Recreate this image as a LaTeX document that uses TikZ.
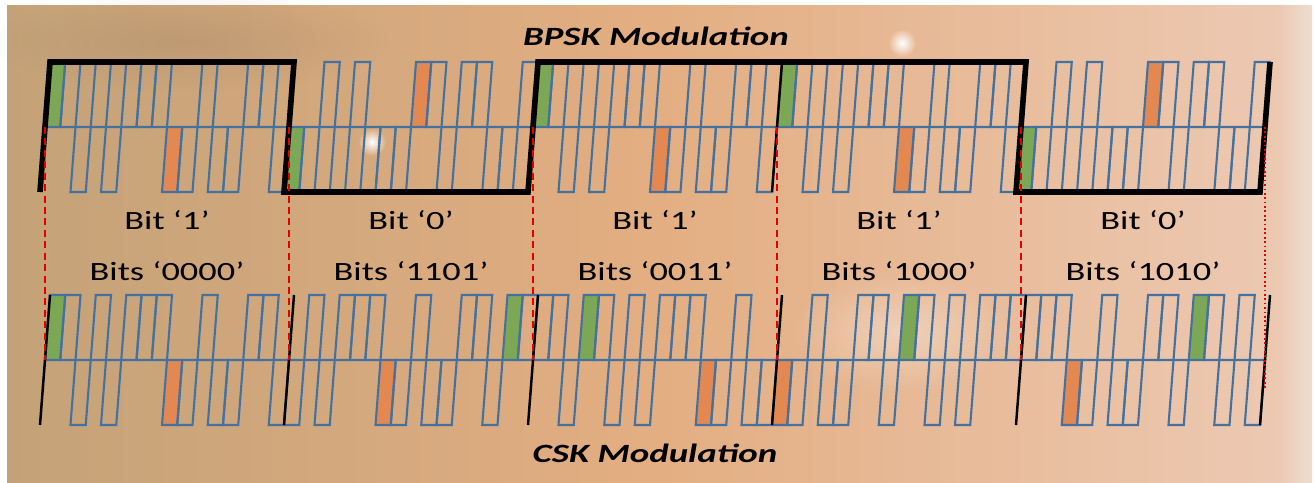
\documentclass[tikz,border=0pt]{standalone}
\usepackage{fontspec}
\setmainfont{Carlito}
\usepackage{tikz}
\usetikzlibrary{calc}
\usetikzlibrary{positioning}
\usetikzlibrary{fadings}

\definecolor{wavecol}{RGB}{68,114,160}
\definecolor{chipgreen}{RGB}{124,168,86}
\definecolor{chiporange}{RGB}{228,136,82}
\definecolor{bgleft}{RGB}{196,162,120}
\definecolor{bgmid}{RGB}{227,174,130}
\definecolor{bgright}{RGB}{237,202,180}
\definecolor{edgecol}{RGB}{236,222,208}

\tikzfading[name=softspot, inner color=transparent!0, outer color=transparent!100]

\begin{document}
\begin{tikzpicture}[x=0.2mm,y=0.2mm]

	\def\cw{15.25} % chip width
	\def\amp{65} % half height of a chip
	\def\pncode{{1,1,-1,1,-1,1,1,1,-1,-1,1,-1,-1,1,1,-1}}

	\tikzset{
		wave/.style={draw=wavecol, line width=1.2pt},
		databit/.style={black, line width=3.2pt},
		boundary/.style={black, line width=1.4pt},
		gap/.style={red!90!black, line width=1.1pt, dash pattern=on 4pt off 2.5pt},
		glow/.style={white, path fading=softspot},
		lbl/.style={font=\fontsize{15}{18}\selectfont, inner sep=0pt, anchor=base},
		title/.style={font=\fontsize{15}{18}\selectfont\bfseries\itshape, inner sep=0pt, anchor=base}
	}

	% background sheet
	\useasboundingbox (0,0) rectangle (1314,482);
	\fill[white] (0,0) rectangle (1314,482);
	\shade[left color=bgleft, right color=bgright, middle color=bgmid] (7,0) rectangle (1312,477);
	\shade[left color=bgright, right color=edgecol] (1280,0) rectangle (1312,477);
	\fill[bgleft!75!black, path fading=softspot, opacity=0.25] (190,440) ellipse (200 and 50);
	\fill[glow] (372,340) circle (14);
	\fill[glow] (902,439) circle (14);
	\fill[glow, opacity=0.35] (900,150) ellipse (110 and 60);

	% --- one code period: #1 start x, #2 midline y, #3 code shift, #4 sign
	\newcommand{\chips}[4]{
		\begin{scope}[shift={(#1,#2)}, xslant=0.077]
			\foreach \k in {0,...,15} {
				\pgfmathtruncatemacro{\j}{mod(\k-#3+16,16)}
				\pgfmathtruncatemacro{\v}{\pncode[\j]}
				\pgfmathtruncatemacro{\v}{#4*\v}
				\ifnum\j=0 \fill[chipgreen] (\k*\cw,0) rectangle ++(\cw,\v*\amp); \fi
				\ifnum\j=8 \fill[chiporange] (\k*\cw,0) rectangle ++(\cw,\v*\amp); \fi
				\draw[wave] (\k*\cw,0) rectangle ++(\cw,\v*\amp);
			}
		\end{scope}
	}

	% BPSK row, bits 1 0 1 1 0
	\foreach \x/\s in {45/1, 289/-1, 533/1, 777/1, 1021/-1}
		\chips{\x}{355}{0}{\s};

	% CSK row, shifted codes
	\foreach \x/\s in {45/0, 289/14, 533/3, 777/8, 1021/11}
		\chips{\x}{122}{\s}{1};

	% data signal on top of the BPSK chips
	\begin{scope}[shift={(0,355)}, xslant=0.077]
		\draw[databit] (45,-\amp) -- (45,\amp) -- (289,\amp) -- (289,-\amp) -- (533,-\amp) -- (533,\amp)
			-- (1021,\amp) -- (1021,-\amp) -- (1265,-\amp) -- (1265,\amp);
		\draw[boundary] (777,-\amp) -- (777,\amp);
	\end{scope}

	% symbol edges on the CSK row
	\begin{scope}[shift={(0,122)}, xslant=0.077]
		\foreach \x in {45,289,...,1265}
			\draw[boundary] (\x,-\amp) -- (\x,\amp);
	\end{scope}

	% red guides between the rows
	\foreach \x in {45,289,...,1021}
		\draw[gap] (\x,355) -- (\x,122);
	\draw[gap, line width=0.8pt, dash pattern=on 1pt off 1.5pt] (1265,355) -- (1265,92);

	% labels
	\node[title] (bpsk) at (656,437) {\scalebox{1.4}[1]{BPSK Modulation}};
	\node[title] (csk) at (655,20) {\scalebox{1.4}[1]{CSK Modulation}};
	\foreach \x/\b [count=\i] in {167/1, 411/0, 655/1, 899/1, 1143/0}
		\node[lbl] (bit\i) at (\x,253) {\scalebox{1.38}[1]{Bit ‘\b’}};
	\foreach \x/\b [count=\i] in {167/0000, 411/1101, 655/0011, 899/1000, 1143/1010}
		\node[lbl] (sym\i) at (\x,202) {\scalebox{1.38}[1]{Bits ‘\b’}};

\end{tikzpicture}
\end{document}
